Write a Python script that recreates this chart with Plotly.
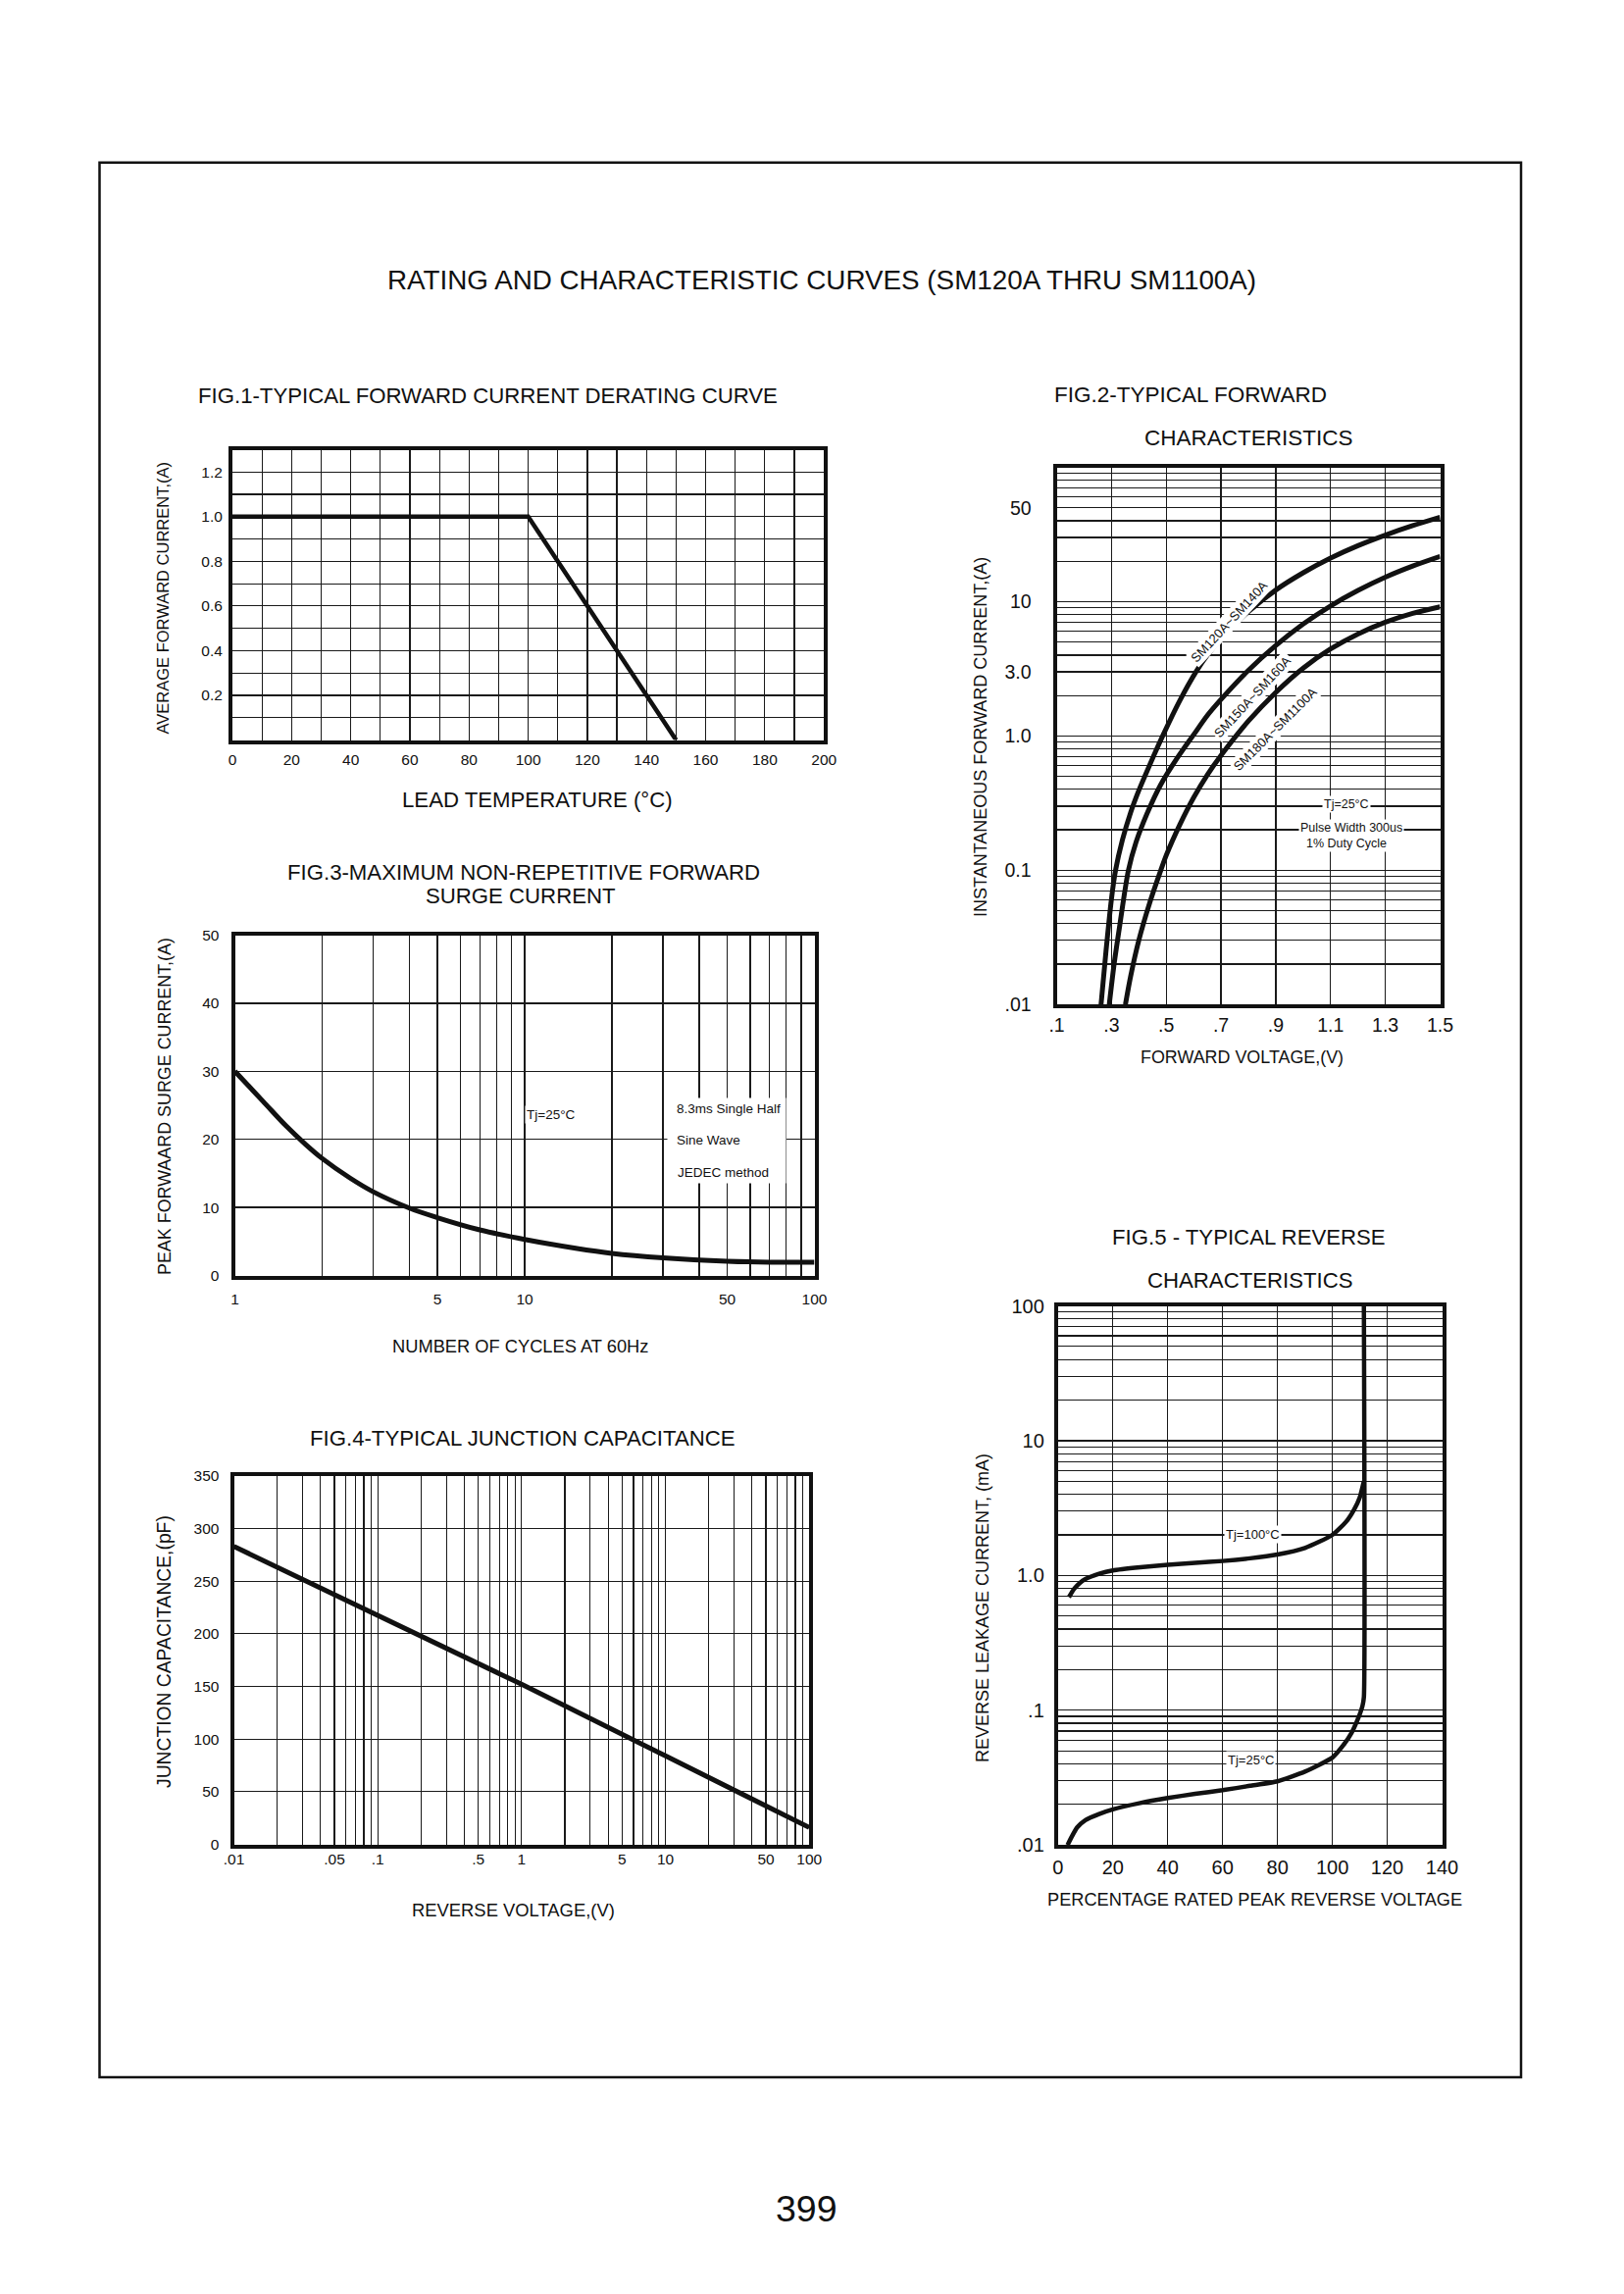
import plotly.graph_objects as go

W, H = 1656, 2339
FONT = "Liberation Sans, Arial, Helvetica, sans-serif"
INK = "#111111"

# ---------------- data ----------------
# FIG.1 derating
fig1_temp_c = [0, 100, 150]
fig1_current_a = [1.0, 1.0, 0.0]
fig1_x_ticks = list(range(0, 201, 10))
fig1_x_labels = [str(v) if v % 20 == 0 else "" for v in fig1_x_ticks]
fig1_y_ticks = [round(0.1 * i, 1) for i in range(0, 14)]
fig1_y_labels = ["", "", "0.2", "", "0.4", "", "0.6", "", "0.8", "", "1.0", "", "1.2", ""]

# FIG.2 forward characteristics
fig2_v_a = [0.262, 0.28, 0.30, 0.315, 0.34, 0.37, 0.40, 0.44, 0.487, 0.55, 0.61, 0.65, 0.70, 0.80, 0.90, 1.0, 1.1, 1.2, 1.3, 1.4, 1.5]
fig2_i_a = [0.01, 0.0249, 0.0611, 0.1, 0.168, 0.269, 0.393, 0.611, 1.0, 1.84, 3.03, 3.99, 5.32, 8.43, 12.2, 16.4, 21.1, 26.1, 31.3, 36.8, 42.5]
fig2_v_b = [0.292, 0.31, 0.33, 0.362, 0.39, 0.43, 0.48, 0.54, 0.60, 0.65, 0.70, 0.80, 0.90, 1.0, 1.1, 1.2, 1.3, 1.4, 1.5]
fig2_i_b = [0.01, 0.0202, 0.0385, 0.1, 0.162, 0.264, 0.434, 0.684, 1.02, 1.42, 1.87, 3.08, 4.71, 6.81, 9.29, 12.1, 15.2, 18.4, 21.7]
fig2_v_c = [0.351, 0.37, 0.40, 0.44, 0.481, 0.50, 0.55, 0.60, 0.65, 0.70, 0.80, 0.90, 1.0, 1.1, 1.2, 1.3, 1.4, 1.5]
fig2_i_c = [0.01, 0.0162, 0.0301, 0.0574, 0.101, 0.129, 0.219, 0.347, 0.513, 0.716, 1.29, 2.11, 3.2, 4.44, 5.74, 7.03, 8.18, 9.14]
fig2_x_ticks = [0.1, 0.3, 0.5, 0.7, 0.9, 1.1, 1.3, 1.5]
fig2_x_labels = [".1", ".3", ".5", ".7", ".9", "1.1", "1.3", "1.5"]
fig2_y_named = {0.01: ".01", 0.1: "0.1", 1: "1.0", 3: "3.0", 10: "10", 50: "50"}

# FIG.3 surge current
fig3_cycles = [1, 1.25, 1.5, 1.75, 2, 2.5, 3, 4, 5, 7, 10, 15, 20, 30, 50, 70, 100]
fig3_amps = [30, 25.6, 22.0, 19.3, 17.2, 14.3, 12.3, 9.9, 8.5, 6.7, 5.3, 4.0, 3.25, 2.6, 2.1, 1.95, 1.95]
fig3_x_named = {1: "1", 5: "5", 10: "10", 50: "50", 100: "100"}
fig3_y_ticks = [0, 10, 20, 30, 40, 50]
fig3_y_labels = ["0", "10", "20", "30", "40", "50"]

# FIG.4 junction capacitance
fig4_volts = [0.01, 0.1, 1, 10, 100]
fig4_pf = [283, 217.5, 152, 84, 16]
fig4_x_named = {0.01: ".01", 0.05: ".05", 0.1: ".1", 0.5: ".5", 1: "1", 5: "5", 10: "10", 50: "50", 100: "100"}
fig4_y_ticks = [0, 50, 100, 150, 200, 250, 300, 350]
fig4_y_labels = ["0", "50", "100", "150", "200", "250", "300", "350"]

# FIG.5 reverse characteristics
fig5_pct_tj100 = [4, 6, 8, 10, 15, 20, 30, 40, 50, 60, 70, 80, 90, 100, 105, 108, 110, 111.5]
fig5_ma_tj100 = [0.69, 0.80, 0.88, 0.94, 1.03, 1.09, 1.15, 1.20, 1.24, 1.28, 1.34, 1.43, 1.6, 2.0, 2.5, 3.1, 3.8, 5.0]
fig5_pct_tj25 = [3.5, 5, 7, 10, 15, 20, 30, 40, 50, 60, 70, 80, 90, 100, 104, 107, 109.5, 111.0, 111.5, 111.5]
fig5_ma_tj25 = [0.010, 0.0115, 0.0135, 0.0153, 0.017, 0.0184, 0.0205, 0.0223, 0.024, 0.0255, 0.0275, 0.0297,
                0.035, 0.0445, 0.055, 0.068, 0.088, 0.108, 0.125, 100]
fig5_x_ticks = [0, 20, 40, 60, 80, 100, 120, 140]
fig5_x_labels = ["0", "20", "40", "60", "80", "100", "120", "140"]
fig5_y_named = {0.01: ".01", 0.1: ".1", 1: "1.0", 10: "10", 100: "100"}


def log_grid(lo_exp, hi_exp):
    vals = []
    for e in range(lo_exp, hi_exp):
        for k in range(1, 10):
            vals.append(round(k * 10 ** e, 6))
    vals.append(round(10 ** hi_exp, 6))
    return vals


def labelled(vals, named):
    out = []
    for v in vals:
        lab = ""
        for key, txt in named.items():
            if abs(v - key) < 1e-9 * max(1, key):
                lab = txt
        out.append(lab)
    return out


# ---------------- layout helpers ----------------
def px_x(p):
    return p / W


def px_y(p):
    return 1 - p / H


LW = 4


def dom_x(a, b):
    return [px_x(a + 1.5), px_x(b - 1.5)]


def dom_y(top, bottom):
    return [px_y(bottom - 1.5), px_y(top + 1.5)]


def axis(domain, anchor, tickvals, ticktext, fsize, standoff, rng, typ="linear"):
    return dict(
        domain=domain, anchor=anchor, type=typ, range=rng,
        tickmode="array", tickvals=tickvals, ticktext=ticktext,
        showgrid=True, gridcolor="#1a1a1a", gridwidth=1.2,
        showline=True, mirror=True, linecolor=INK, linewidth=LW,
        ticks="", zeroline=False, automargin=False, fixedrange=True,
        tickfont=dict(family=FONT, size=fsize, color=INK),
        ticklabelstandoff=standoff,
    )


fig = go.Figure()

# traces
fig.add_trace(go.Scatter(x=fig1_temp_c, y=fig1_current_a, mode="lines", xaxis="x", yaxis="y",
                         line=dict(color=INK, width=4.5), showlegend=False))
for vx, iy in [(fig2_v_a, fig2_i_a), (fig2_v_b, fig2_i_b), (fig2_v_c, fig2_i_c)]:
    fig.add_trace(go.Scatter(x=vx, y=iy, mode="lines", xaxis="x2", yaxis="y2",
                             line=dict(color=INK, width=5, shape="spline", smoothing=0.8), showlegend=False))
fig.add_trace(go.Scatter(x=fig3_cycles, y=fig3_amps, mode="lines", xaxis="x3", yaxis="y3",
                         line=dict(color=INK, width=5, shape="spline", smoothing=1.0), showlegend=False))
fig.add_trace(go.Scatter(x=fig4_volts, y=fig4_pf, mode="lines", xaxis="x4", yaxis="y4",
                         line=dict(color=INK, width=5), showlegend=False))
fig.add_trace(go.Scatter(x=fig5_pct_tj100, y=fig5_ma_tj100, mode="lines", xaxis="x5", yaxis="y5",
                         line=dict(color=INK, width=4.5, shape="spline", smoothing=0.6), showlegend=False))
fig.add_trace(go.Scatter(x=fig5_pct_tj25, y=fig5_ma_tj25, mode="lines", xaxis="x5", yaxis="y5",
                         line=dict(color=INK, width=4.5, shape="spline", smoothing=0.5), showlegend=False))

fig2_y_ticks = log_grid(-2, 2)
fig5_y_ticks = log_grid(-2, 2)
fig3_x_ticks = log_grid(0, 2)
fig4_x_ticks = log_grid(-2, 2)

fig.update_layout(
    width=W, height=H, margin=dict(l=0, r=0, t=0, b=0),
    paper_bgcolor="white", plot_bgcolor="white", showlegend=False,
    font=dict(family=FONT, color=INK),
    xaxis=axis(dom_x(235.5, 841.7), "y", fig1_x_ticks, fig1_x_labels, 15.5, 3, [0, 200]),
    yaxis=axis(dom_y(457, 756), "x", fig1_y_ticks, fig1_y_labels, 15.5, 3, [0, 1.3]),
    xaxis2=axis(dom_x(1076, 1470), "y2", fig2_x_ticks, fig2_x_labels, 19.5, 0, [0.1, 1.5]),
    yaxis2=axis(dom_y(475, 1025.7), "x2", fig2_y_ticks, labelled(fig2_y_ticks, fig2_y_named), 19.5, 18, [-2, 2], "log"),
    xaxis3=axis(dom_x(238, 832), "y3", fig3_x_ticks, labelled(fig3_x_ticks, fig3_x_named), 15.5, 7, [0, 2], "log"),
    yaxis3=axis(dom_y(952, 1302), "x3", fig3_y_ticks, fig3_y_labels, 15.5, 9, [0, 50]),
    xaxis4=axis(dom_x(237, 826.7), "y4", fig4_x_ticks, labelled(fig4_x_ticks, fig4_x_named), 15.5, -2, [-2, 2], "log"),
    yaxis4=axis(dom_y(1503.3, 1882), "x4", fig4_y_ticks, fig4_y_labels, 15.5, 8, [0, 350]),
    xaxis5=axis(dom_x(1077.3, 1472), "y5", fig5_x_ticks, fig5_x_labels, 20, 2, [0, 140]),
    yaxis5=axis(dom_y(1330, 1882.7), "x5", fig5_y_ticks, labelled(fig5_y_ticks, fig5_y_named), 20, 6, [-2, 2], "log"),
)


def note(text, x, y, size, angle=0, bg=None, w=None, h=None):
    d = dict(text=text, x=px_x(x), y=px_y(y), xref="paper", yref="paper",
             xanchor="center", yanchor="middle", showarrow=False, textangle=angle,
             font=dict(family=FONT, size=size, color=INK))
    if bg:
        d.update(bgcolor=bg, borderpad=1)
    if w:
        d.update(width=w, height=h)
    fig.add_annotation(**d)


# page title and figure titles
note("RATING AND CHARACTERISTIC CURVES (SM120A THRU SM1100A)", 837.5, 286, 27.8)
note("FIG.1-TYPICAL FORWARD CURRENT DERATING CURVE", 497, 404, 22.2)
note("FIG.2-TYPICAL FORWARD", 1214, 403, 22.5)
note("CHARACTERISTICS", 1273, 447, 22.5)
note("FIG.3-MAXIMUM NON-REPETITIVE FORWARD", 534, 889, 22.2)
note("SURGE CURRENT", 531, 913, 22.2)
note("FIG.4-TYPICAL JUNCTION CAPACITANCE", 533, 1466, 22.2)
note("FIG.5 - TYPICAL REVERSE", 1273, 1261, 22.2)
note("CHARACTERISTICS", 1275, 1305, 22.2)

# axis titles
note("LEAD TEMPERATURE (°C)", 548, 815, 22.2)
note("AVERAGE FORWARD CURRENT,(A)", 165.5, 610, 16.5, -90)
note("FORWARD VOLTAGE,(V)", 1266, 1078, 17.9)
note("INSTANTANEOUS FORWARD CURRENT,(A)", 1000, 752, 18, -90)
note("NUMBER OF CYCLES AT 60Hz", 530, 1372, 18.3)
note("PEAK FORWAARD SURGE CURRENT,(A)", 168, 1128, 17.9, -90)
note("REVERSE VOLTAGE,(V)", 523, 1947, 18.4)
note("JUNCTION CAPACITANCE,(pF)", 167, 1684, 19.3, -90)
note("PERCENTAGE RATED PEAK REVERSE VOLTAGE", 1279, 1937, 18.2)
note("REVERSE LEAKAGE CURRENT, (mA)", 1002, 1640, 18, -90)

# in-plot notes
note("SM120A~SM140A", 1254, 634, 13, -47, "white")
note("SM150A~SM160A", 1277, 710, 13, -47, "white")
note("SM180A~SM1100A", 1300, 743, 13, -45, "white")
note("Tj=25°C", 1373, 820, 12.5, 0, "white")
note("Pulse Width 300us", 1378, 844, 12.5, 0, "white")
note("1% Duty Cycle", 1373, 860, 12.5, 0, "white")
note("Tj=25°C", 562, 1136, 13.5, 0, "white")
note(" ", 741, 1163, 10, 0, "white", 118, 84)
note("8.3ms Single Half", 743, 1130, 13.5)
note("Sine Wave", 722, 1162, 13.5)
note("JEDEC method", 737, 1195, 13.5)
note("Tj=100°C", 1277, 1564, 13, 0, "white")
note("Tj=25°C", 1275, 1794, 13, 0, "white")

# page number
note("399", 822.6, 2252, 37.5)

# page frame
fig.add_shape(type="rect", xref="paper", yref="paper",
              x0=px_x(101.5), x1=px_x(1551), y0=px_y(2118), y1=px_y(165.8),
              line=dict(color=INK, width=2.5), fillcolor="rgba(0,0,0,0)", layer="above")

fig.write_html("out.html", config={"displayModeBar": False, "staticPlot": True},
               post_script="document.body.style.margin='0';document.body.style.overflow='hidden';")
